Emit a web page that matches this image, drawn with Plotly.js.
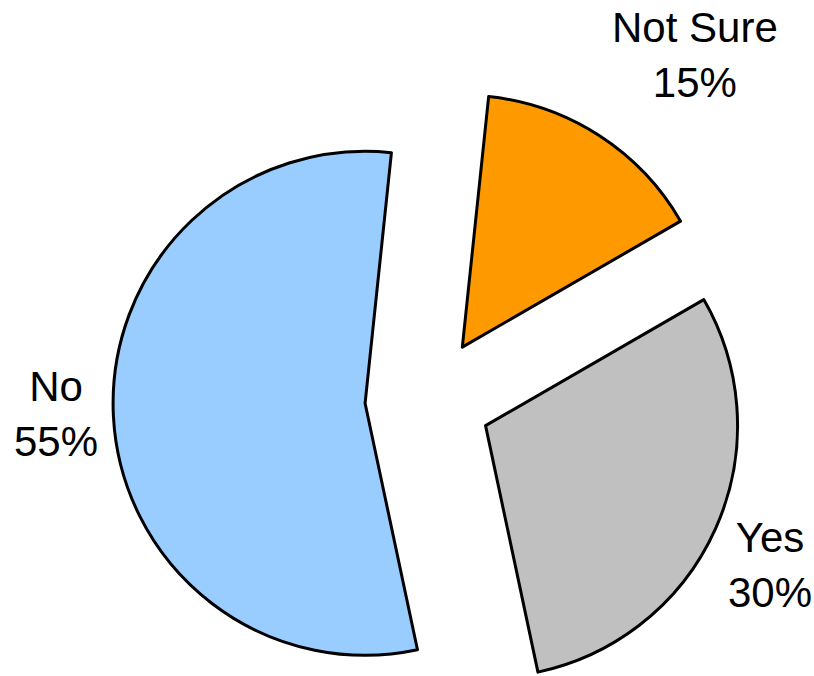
<!DOCTYPE html>
<html>
<head>
<meta charset="utf-8">
<script src="https://cdn.plot.ly/plotly-3.0.1.min.js"></script>
<style>
  html, body { margin: 0; padding: 0; overflow: hidden; background: #fff; }
  #chart { width: 814px; height: 720px; }
</style>
</head>
<body>
<div id="chart"></div>
<script>
const categories = ['Not Sure', 'Yes', 'No'];
const shares = [15, 30, 55];
const sliceColors = ['#FF9900', '#C0C0C0', '#99CCFF'];
const pulls = [0.25, 0.25, 0.25];

// label anchor positions (paper fractions) for the outside labels
const labelX = [0.924, 1.043, -0.090];
const labelY = [1.048, 0.238, 0.478];

const trace = {
  type: 'pie',
  labels: categories,
  values: shares,
  sort: false,
  direction: 'clockwise',
  rotation: 6,
  pull: pulls,
  marker: { colors: sliceColors, line: { color: '#000000', width: 3 } },
  textinfo: 'none',
  showlegend: false,
  hoverinfo: 'label+percent'
};

const annotations = categories.map((c, i) => ({
  xref: 'paper', yref: 'paper',
  x: labelX[i], y: labelY[i],
  xanchor: 'center', yanchor: 'middle',
  text: c + '<br>' + shares[i] + '%',
  showarrow: false,
  align: 'center',
  font: { family: 'Liberation Sans, Arial, sans-serif', size: 42, color: '#000000' }
}));

const layout = {
  width: 814,
  height: 720,
  margin: { l: 113, r: 71, t: 85, b: 5 },
  paper_bgcolor: '#ffffff',
  plot_bgcolor: '#ffffff',
  showlegend: false,
  annotations: annotations,
  font: { family: 'Liberation Sans, Arial, sans-serif', color: '#000000' }
};

Plotly.newPlot('chart', [trace], layout, { displayModeBar: false, staticPlot: true });
</script>
</body>
</html>
